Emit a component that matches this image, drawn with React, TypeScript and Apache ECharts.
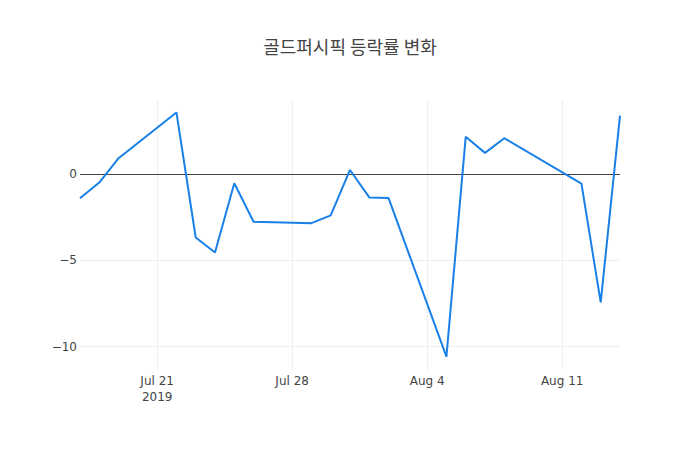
import React, { useEffect, useRef } from "react";
import * as echarts from "echarts";

const title = "골드퍼시픽 등락률 변화";

// every calendar day on the axis (Jul 17 – Aug 14, 2019)
const days: string[] = [
  "2019-07-17", "2019-07-18", "2019-07-19", "2019-07-20", "2019-07-21",
  "2019-07-22", "2019-07-23", "2019-07-24", "2019-07-25", "2019-07-26",
  "2019-07-27", "2019-07-28", "2019-07-29", "2019-07-30", "2019-07-31",
  "2019-08-01", "2019-08-02", "2019-08-03", "2019-08-04", "2019-08-05",
  "2019-08-06", "2019-08-07", "2019-08-08", "2019-08-09", "2019-08-10",
  "2019-08-11", "2019-08-12", "2019-08-13", "2019-08-14",
];

// trading-day change rates (%), null = no trading
const changeRate: (number | null)[] = [
  -1.41, -0.5, 0.91, null, null,
  3.56, -3.68, -4.55, -0.54, -2.77,
  null, null, -2.85, -2.4, 0.23,
  -1.36, -1.4, null, null, -10.58,
  2.15, 1.22, 2.07, null, null,
  null, -0.56, -7.44, 3.37,
];

const tickDays: string[] = ["2019-07-21", "2019-07-28", "2019-08-04", "2019-08-11"];
const tickLabels: string[] = ["Jul 21\n2019", "Jul 28", "Aug 4", "Aug 11"];

const yMin = -11.35;
const yMax = 4.28;

export default function App() {
  const ref = useRef<HTMLDivElement>(null);
  useEffect(() => {
    document.body.style.margin = "0";
    if (!ref.current) return;
    const chart = echarts.init(ref.current, undefined, { renderer: "svg" });
    const isTick = (_i: number, v: string) => tickDays.indexOf(v) >= 0;
    chart.setOption({
      animation: false,
      backgroundColor: "#fff",
      textStyle: { fontFamily: "'DejaVu Sans', 'Noto Sans CJK KR', sans-serif" },
      title: {
        text: title,
        left: "center",
        top: 32,
        textStyle: {
          fontFamily: "'Noto Sans CJK KR', sans-serif",
          fontSize: 18,
          fontWeight: "normal",
          color: "#444",
        },
      },
      grid: { left: 80, right: 80, top: 100, bottom: 80, containLabel: false },
      xAxis: {
        type: "category",
        data: days,
        boundaryGap: false,
        axisLine: { show: false },
        axisTick: { show: false },
        axisLabel: {
          interval: isTick,
          color: "#444",
          fontSize: 12,
          lineHeight: 16,
          margin: 3,
          fontFamily: "'DejaVu Sans', sans-serif",
          formatter: (v: string) => tickLabels[tickDays.indexOf(v)] ?? "",
        },
        splitLine: {
          show: true,
          interval: isTick,
          lineStyle: { color: "#eee", width: 1 },
        },
      },
      yAxis: {
        type: "value",
        min: yMin,
        max: yMax,
        splitNumber: 3,
        axisLine: { show: false },
        axisTick: { show: false },
        axisLabel: {
          color: "#444",
          fontSize: 12,
          margin: 3,
          showMinLabel: false,
          showMaxLabel: false,
          fontFamily: "'DejaVu Sans', sans-serif",
          formatter: (v: number) => String(v).replace("-", "\u2212"),
        },
        splitLine: {
          show: true,
          showMinLine: false,
          showMaxLine: false,
          lineStyle: { color: "#eee", width: 1 },
        },
      },
      series: [
        {
          type: "line",
          data: changeRate,
          connectNulls: true,
          showSymbol: false,
          symbol: "none",
          lineStyle: { color: "#1880e8", width: 2 },
          itemStyle: { color: "#1880e8" },
          z: 3,
          markLine: {
            silent: true,
            symbol: "none",
            label: { show: false },
            lineStyle: { color: "#444", width: 1, type: "solid" },
            data: [{ yAxis: 0 }],
            z: 2,
          },
        },
      ],
    });
    return () => chart.dispose();
  }, []);
  return <div ref={ref} style={{ width: 700, height: 450 }} />;
}
